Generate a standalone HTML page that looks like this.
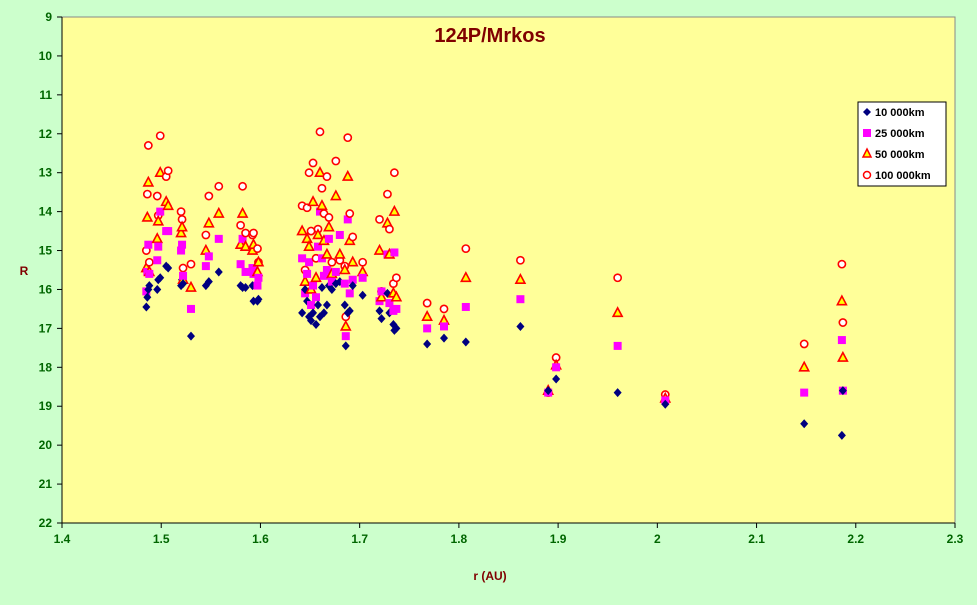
<!DOCTYPE html>
<html><head><meta charset="utf-8"><style>
body{margin:0;background:#ccffcc;width:977px;height:600px;overflow:hidden;font-family:"Liberation Sans",sans-serif}
</style></head><body>
<svg width="977" height="600" xmlns="http://www.w3.org/2000/svg">
<rect x="0" y="0" width="977" height="600" fill="#ccffcc"/>
<rect x="62" y="17" width="893" height="506" fill="#ffff99" stroke="#888"/>
<text x="490" y="42" text-anchor="middle" font-size="20" font-weight="bold" fill="#800000">124P/Mrkos</text>
<text x="24" y="275" text-anchor="middle" font-size="12" font-weight="bold" fill="#800000">R</text>
<text x="490" y="580" text-anchor="middle" font-size="12" font-weight="bold" fill="#800000">r (AU)</text>
<g id="axes"></g>
<g id="marks"></g>
<g>
<rect x="858" y="102" width="88" height="84" fill="#fff" stroke="#000"/>
<path d="M867 108 L871 112 L867 116 L863 112Z" fill="#000080"/>
<text x="875" y="116" font-size="11" font-weight="bold">10 000km</text>
<rect x="863" y="129" width="8" height="8" fill="#ff00ff"/>
<text x="875" y="137" font-size="11" font-weight="bold">25 000km</text>
<path d="M867 149 L871 157 L863 157Z" fill="#ffff00" stroke="#ff0000" stroke-width="1.5"/>
<text x="875" y="158" font-size="11" font-weight="bold">50 000km</text>
<circle cx="867" cy="175" r="3.5" fill="#fff" stroke="#ff0000" stroke-width="1.5"/>
<text x="875" y="179" font-size="11" font-weight="bold">100 000km</text>
</g>
</svg>
<script>
const xTicks=[1.4,1.5,1.6,1.7,1.8,1.9,2.0,2.1,2.2,2.3];
const xTickLabels=["1.4","1.5","1.6","1.7","1.8","1.9","2","2.1","2.2","2.3"];
const yTicks=[9,10,11,12,13,14,15,16,17,18,19,20,21,22];
const rValues=[1.485,1.486,1.487,1.488,1.496,1.497,1.499,1.505,1.507,1.52,1.521,1.522,1.53,1.545,1.548,1.558,1.58,1.582,1.585,1.592,1.593,1.597,1.598,
1.642,1.645,1.647,1.649,1.651,1.653,1.656,1.658,1.66,1.662,1.664,1.667,1.669,1.672,1.676,1.68,1.685,1.686,1.688,1.69,1.693,1.703,1.72,1.722,1.728,1.73,1.734,1.735,1.737,
1.768,1.785,1.807,1.862,1.89,1.898,1.96,2.008,2.148,2.186,2.187];
const mag10k=[16.45,16.2,16.0,15.9,16.0,15.75,15.7,15.4,15.45,15.9,15.75,15.85,17.2,15.9,15.8,15.55,15.9,15.95,15.95,15.9,16.3,16.3,16.25,
16.6,16.0,16.3,16.7,16.8,16.6,16.9,16.4,16.7,15.95,16.6,16.4,15.9,16.0,15.85,15.8,16.4,17.45,16.6,16.55,15.9,16.15,16.55,16.75,16.1,16.6,16.9,17.05,17.0,
17.4,17.25,17.35,16.95,18.6,18.3,18.65,18.95,19.45,19.75,18.6];
const mag25k=[16.05,15.55,14.85,15.6,15.25,14.9,14.0,14.5,14.5,15.0,14.85,15.65,16.5,15.4,15.15,14.7,15.35,14.7,15.55,15.45,15.6,15.9,15.7,
15.2,16.1,15.6,15.3,16.4,15.9,16.2,14.9,14.0,15.2,15.65,15.5,14.7,15.8,15.55,14.6,15.85,17.2,14.2,16.1,15.75,15.7,16.3,16.05,15.1,16.35,16.55,15.05,16.5,
17.0,16.95,16.45,16.25,18.65,18.0,17.45,18.85,18.65,17.3,18.6];
const mag50k=[15.45,14.15,13.25,15.55,14.7,14.25,13.0,13.75,13.85,14.55,14.4,15.75,15.95,15.0,14.3,14.05,14.85,14.05,14.9,15.0,14.85,15.55,15.3,
14.5,15.8,14.7,14.9,16.0,13.75,15.7,14.6,13.0,13.85,14.75,15.1,14.4,15.6,13.6,15.1,15.5,16.95,13.1,14.75,15.3,15.55,15.0,16.2,14.3,15.1,16.1,14.0,16.2,
16.7,16.8,15.7,15.75,18.6,17.95,16.6,18.8,18.0,16.3,17.75];
const mag100k=[15.0,13.55,12.3,15.3,13.6,14.1,12.05,13.1,12.95,14.0,14.2,15.45,15.35,14.6,13.6,13.35,14.35,13.35,14.55,14.6,14.55,14.95,15.3,
13.85,15.5,13.9,13.0,14.5,12.75,15.2,14.45,11.95,13.4,14.05,13.1,14.15,15.3,12.7,15.25,15.4,16.7,12.1,14.05,14.65,15.3,14.2,16.05,13.55,14.45,15.85,13.0,15.7,
16.35,16.5,14.95,15.25,18.65,17.75,15.7,18.7,17.4,15.35,16.85];
const X0=62,X1=955,Y0=17,Y1=523;
const xs=v=>X0+(v-1.4)/(0.9)*(X1-X0);
const ys=v=>Y0+(v-9)/13*(Y1-Y0);
const NS="http://www.w3.org/2000/svg";
const axes=document.getElementById('axes'),marks=document.getElementById('marks');
function mk(tag,attrs,parent){const e=document.createElementNS(NS,tag);for(const k in attrs)e.setAttribute(k,attrs[k]);parent.appendChild(e);return e;}
const ax=mk('line',{x1:X0,y1:Y1,x2:X1,y2:Y1,stroke:'#000'},axes);


const ay=mk('line',{x1:X0,y1:Y0,x2:X0,y2:Y1,stroke:'#000'},axes);


xTicks.forEach((t,i)=>{const x=xs(t);
 mk('line',{x1:x,y1:Y1,x2:x,y2:Y1+5,stroke:'#000'},axes);
 const tx=mk('text',{x:x,y:Y1+20,'text-anchor':'middle','font-size':12,'font-weight':'bold',fill:'#006600'},axes);
 tx.textContent=xTickLabels[i];
 
 });
yTicks.forEach(t=>{const y=ys(t);
 mk('line',{x1:X0-5,y1:y,x2:X0,y2:y,stroke:'#000'},axes);
 const tx=mk('text',{x:X0-10,y:y+4,'text-anchor':'end','font-size':12,'font-weight':'bold',fill:'#006600'},axes);
 tx.textContent=t;
 
 });
rValues.forEach((r,i)=>{const x=xs(r);let y,e;
 y=ys(mag100k[i]);
 e=mk('circle',{cx:x,cy:y,r:3.6,fill:'#fff',stroke:'#ff0000','stroke-width':1.6},marks);
 
 
 y=ys(mag50k[i]);
 e=mk('path',{d:`M${x} ${y-5}L${x+4.5} ${y+3.5}L${x-4.5} ${y+3.5}Z`,fill:'#ffff00',stroke:'#ff0000','stroke-width':1.6},marks);
 
 
 y=ys(mag25k[i]);
 e=mk('rect',{x:x-4,y:y-4,width:8,height:8,fill:'#ff00ff'},marks);
 
 
 y=ys(mag10k[i]);
 e=mk('path',{d:`M${x} ${y-4.5}L${x+4} ${y}L${x} ${y+4.5}L${x-4} ${y}Z`,fill:'#000080'},marks);
 
 
});
</script>
</body></html>
